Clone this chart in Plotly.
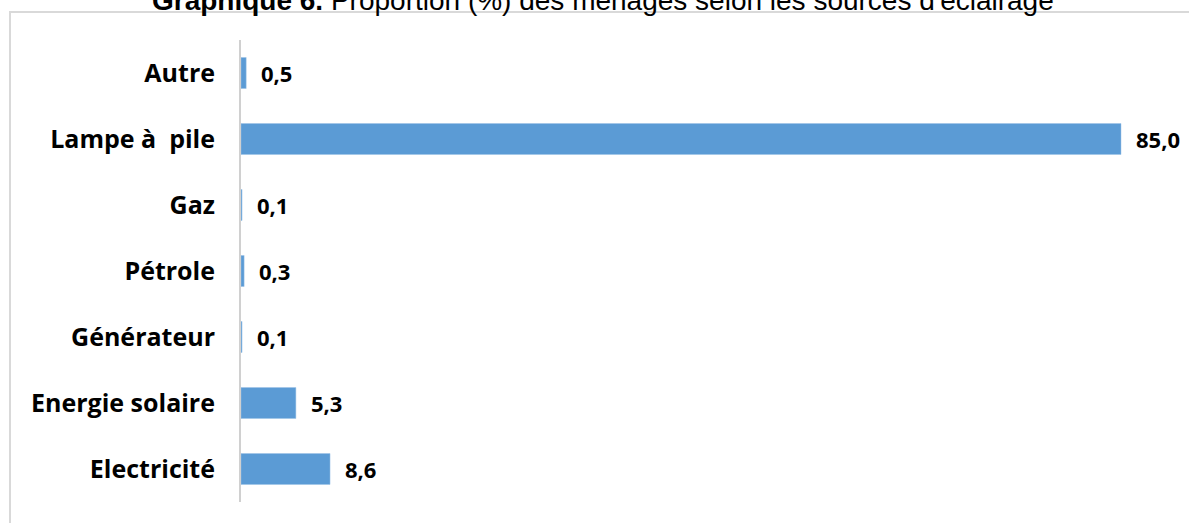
import plotly.graph_objects as go

categories = ["Autre", "Lampe à\u00a0 pile", "Gaz", "Pétrole", "Générateur", "Energie solaire", "Electricité"]
values = [0.5, 85.0, 0.1, 0.3, 0.1, 5.3, 8.6]
labels = ["0,5", "85,0", "0,1", "0,3", "0,1", "5,3", "8,6"]

W, H = 1189, 523
L, R, T, B = 241, 9, 40, 21
pw = W - L - R
ph = H - T - B
xmax = pw / ((1121 - 241) / 85.0)

fig = go.Figure(go.Bar(
    x=values, y=categories, orientation="h",
    marker=dict(color="#5B9BD5", line=dict(color="#9DC3E6", width=0.5)),
    width=0.47, hoverinfo="skip"))

for c, v, t in zip(categories, values, labels):
    fig.add_annotation(x=v, y=c, text=t, showarrow=False, xanchor="left", xshift=13,
                       font=dict(family="Open Sans", size=22, color="#000000", weight="bold"))

# title (partially cut at top)
fig.add_annotation(xref="paper", yref="paper", x=(603 - L) / pw, y=(H - B - 18) / ph,
                   xanchor="center", yanchor="bottom", showarrow=False,
                   text="<b>Graphique 6.</b> Proportion (%) des ménages selon les sources d'éclairage",
                   font=dict(family="Liberation Sans", size=28, color="#000000"))

# chart area border
fig.add_shape(type="rect", xref="paper", yref="paper",
              x0=(10 - L) / pw, x1=1.2, y0=-0.3, y1=(H - B - 12) / ph,
              line=dict(color="#d9d9d9", width=2), fillcolor="rgba(0,0,0,0)", layer="below")

fig.update_layout(
    width=W, height=H, margin=dict(l=L, r=R, t=T, b=B),
    plot_bgcolor="white", paper_bgcolor="white", showlegend=False,
    xaxis=dict(range=[0, xmax], visible=False, showgrid=False, zeroline=False),
    yaxis=dict(autorange="reversed", showgrid=False, showline=True, linecolor="#d0d0d0", linewidth=2,
               ticks="", ticklabelstandoff=19,
               tickfont=dict(family="Open Sans", size=25, color="#000000", weight="bold")),
)

fig.write_html("out.html", config={"displayModeBar": False},
               post_script="document.body.style.margin='0';document.body.style.overflow='hidden';")
